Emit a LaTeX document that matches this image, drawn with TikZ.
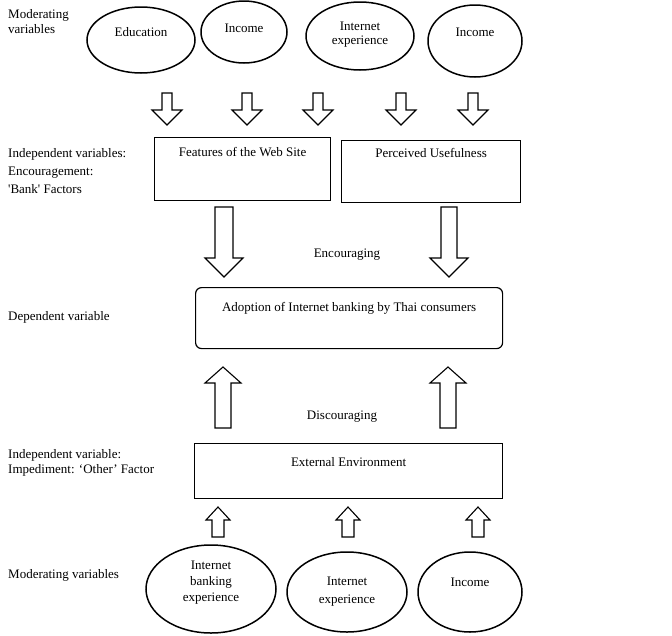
\documentclass[tikz,border=0pt]{standalone}
\usepackage{fontspec}
\setmainfont{Liberation Serif}
\usetikzlibrary{shapes.geometric,calc}

\tikzset{
  txt/.style={font=\fontsize{13}{16}\selectfont, inner sep=0pt},
  side/.style={txt, anchor=west, align=left},
  oval/.style={draw, line width=1.5pt, ellipse, inner sep=0pt},
  boxed/.style={draw, line width=1.2pt, rectangle, inner sep=0pt, anchor=north west},
  fat/.style={draw, line width=1.1pt, line join=miter, fill=white}
}

% block arrow: x, tail y, tip y, half shaft width, half head width, signed head length
\newcommand\fatarrow[6]{%
  \draw[fat] (#1-#4,#2) -- (#1-#4,#3-#6) -- (#1-#5,#3-#6) -- (#1,#3)
    -- (#1+#5,#3-#6) -- (#1+#4,#3-#6) -- (#1+#4,#2) -- cycle;}

\begin{document}
\begin{tikzpicture}[x=1pt,y=-1pt]
\useasboundingbox (0,0) rectangle (672,635);

% row labels
\node[side] (lab1) at (8,22) {Moderating\\[-1pt]variables};
\node[side] (lab2) at (8,171) {Independent variables:\\[2pt]Encouragement:\\[2pt]\textquotesingle Bank\textquotesingle{} Factors};
\node[side] (lab3) at (8,317) {Dependent variable};
\node[side] (lab4) at (8,463) {Independent variable:\\[-1pt]Impediment: `Other' Factor};
\node[side] (lab5) at (8,575) {Moderating variables};

% upper moderators
\node[oval, minimum width=108, minimum height=66] (m1) at (141,40) {};
\node[oval, minimum width=86,  minimum height=62] (m2) at (244,32) {};
\node[oval, minimum width=108, minimum height=68] (m3) at (360,36) {};
\node[oval, minimum width=94,  minimum height=72] (m4) at (475,41) {};
\node[txt] (m1t) at ($(m1)+(0,-8)$) {Education};
\node[txt] (m2t) at ($(m2)+(0,-4)$) {Income};
\node[txt, align=center] (m3t) at ($(m3)+(0,-1)$) {Internet\\[-2pt]experience};
\node[txt] (m4t) at ($(m4)+(0,-9)$) {Income};

% small arrows into the bank factors
\fatarrow{167}{93}{125}{5}{15}{15}
\fatarrow{247}{93}{125}{5}{15}{15}
\fatarrow{318}{93}{125}{5}{15}{15}
\fatarrow{401}{93}{125}{5}{15}{15}
\fatarrow{473}{93}{125}{5}{15}{15}

% bank factors
\node[boxed, minimum width=176, minimum height=63] (feat) at (154,137) {};
\node[boxed, minimum width=179, minimum height=62] (pu) at (341,140) {};
\node[txt] (featt) at ($(feat.north)+(0,15)$) {Features of the Web Site};
\node[txt] (put) at ($(pu.north)+(0,13)$) {Perceived Usefulness};

% encouraging arrows
\fatarrow{224}{207}{277}{9}{19}{19}
\fatarrow{449}{207}{277}{8}{19}{19}
\node[txt] (enc) at (347,255) {Encouraging};

% dependent variable
\node[boxed, rounded corners=6pt, minimum width=307, minimum height=61] (adopt) at (195,287) {};
\node[txt] (adoptt) at ($(adopt.north)+(0,21)$) {Adoption of Internet banking by Thai consumers};

% discouraging arrows
\fatarrow{223}{428}{367}{8}{18}{-16}
\fatarrow{448}{428}{367}{8}{18}{-16}
\node[txt] (disc) at (342,417) {Discouraging};

% impediment
\node[boxed, minimum width=308, minimum height=55] (ext) at (194,443) {};
\node[txt] (extt) at ($(ext.north)+(0,19)$) {External Environment};

% small arrows from the lower moderators
\fatarrow{218}{537}{507}{6}{12}{-13}
\fatarrow{348}{537}{507}{6}{12}{-13}
\fatarrow{478}{537}{507}{6}{12}{-13}

% lower moderators
\node[oval, minimum width=130, minimum height=88] (b1) at (211,589) {};
\node[oval, minimum width=120, minimum height=80] (b2) at (347,592) {};
\node[oval, minimum width=104, minimum height=80] (b3) at (470,592) {};
\node[txt, align=center] (b1t) at ($(b1)+(0,-6)$) {Internet\\[0pt]banking\\[0pt]experience};
\node[txt, align=center] (b2t) at ($(b2)+(0,0)$) {Internet\\[2pt]experience};
\node[txt] (b3t) at ($(b3)+(0,-10)$) {Income};
\end{tikzpicture}
\end{document}
